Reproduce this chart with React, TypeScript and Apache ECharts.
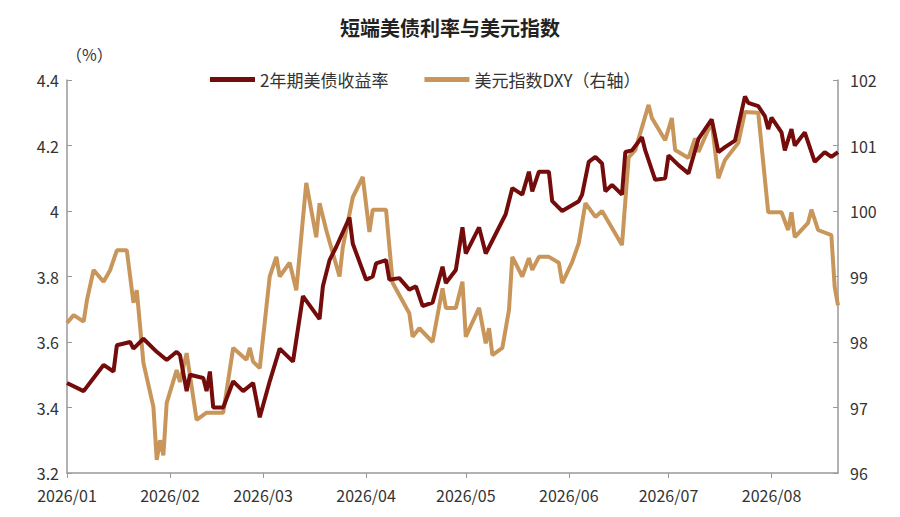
import { useEffect, useRef } from "react";
import * as echarts from "echarts";

const yieldDates = [
  "2026-01-01", "2026-01-06", "2026-01-09", "2026-01-12", "2026-01-15", "2026-01-16", "2026-01-20", "2026-01-21",
  "2026-01-24", "2026-01-28", "2026-01-31", "2026-02-03", "2026-02-04", "2026-02-06", "2026-02-07", "2026-02-11",
  "2026-02-12", "2026-02-13", "2026-02-14", "2026-02-17", "2026-02-20", "2026-02-23", "2026-02-26", "2026-02-28",
  "2026-03-03", "2026-03-06", "2026-03-10", "2026-03-13", "2026-03-18", "2026-03-19", "2026-03-21", "2026-03-23",
  "2026-03-27", "2026-03-28", "2026-04-01", "2026-04-03", "2026-04-04", "2026-04-07", "2026-04-08", "2026-04-11",
  "2026-04-14", "2026-04-16", "2026-04-18", "2026-04-21", "2026-04-24", "2026-04-25", "2026-04-28", "2026-04-30",
  "2026-05-01", "2026-05-05", "2026-05-07", "2026-05-09", "2026-05-13", "2026-05-15", "2026-05-18", "2026-05-20",
  "2026-05-21", "2026-05-23", "2026-05-26", "2026-05-27", "2026-05-30", "2026-06-04", "2026-06-05", "2026-06-07",
  "2026-06-09", "2026-06-11", "2026-06-12", "2026-06-14", "2026-06-17", "2026-06-18", "2026-06-20", "2026-06-23",
  "2026-06-24", "2026-06-27", "2026-06-30", "2026-07-01", "2026-07-04", "2026-07-07", "2026-07-10", "2026-07-14",
  "2026-07-16", "2026-07-18", "2026-07-21", "2026-07-24", "2026-07-25", "2026-07-28", "2026-07-30", "2026-07-31",
  "2026-08-01", "2026-08-04", "2026-08-05", "2026-08-07", "2026-08-08", "2026-08-11", "2026-08-14", "2026-08-17",
  "2026-08-19", "2026-08-21",
];
const yieldValues = [
  3.475, 3.45, 3.49, 3.53, 3.51, 3.59, 3.6, 3.58,
  3.61, 3.57, 3.545, 3.57, 3.56, 3.45, 3.5, 3.49,
  3.45, 3.51, 3.4, 3.4, 3.48, 3.45, 3.475, 3.37,
  3.48, 3.58, 3.54, 3.74, 3.67, 3.77, 3.85, 3.89,
  3.98, 3.9, 3.79, 3.8, 3.84, 3.85, 3.79, 3.795,
  3.76, 3.77, 3.71, 3.72, 3.83, 3.78, 3.82, 3.95,
  3.87, 3.95, 3.87, 3.91, 3.99, 4.07, 4.05, 4.12,
  4.06, 4.12, 4.12, 4.03, 4.0, 4.03, 4.05, 4.15,
  4.165, 4.145, 4.06, 4.08, 4.05, 4.18, 4.185, 4.225,
  4.185, 4.095, 4.1, 4.17, 4.14, 4.115, 4.22, 4.28,
  4.18, 4.195, 4.215, 4.35, 4.33, 4.32, 4.29, 4.25,
  4.285, 4.24, 4.185, 4.25, 4.2, 4.24, 4.15, 4.18,
  4.165, 4.18,
];

const dxyDates = [
  "2026-01-01", "2026-01-03", "2026-01-06", "2026-01-07", "2026-01-09", "2026-01-12", "2026-01-14", "2026-01-16",
  "2026-01-19", "2026-01-21", "2026-01-22", "2026-01-24", "2026-01-27", "2026-01-28", "2026-01-29", "2026-01-30",
  "2026-01-31", "2026-02-03", "2026-02-04", "2026-02-06", "2026-02-09", "2026-02-12", "2026-02-17", "2026-02-20",
  "2026-02-24", "2026-02-25", "2026-02-26", "2026-02-28", "2026-03-03", "2026-03-05", "2026-03-06", "2026-03-09",
  "2026-03-11", "2026-03-14", "2026-03-17", "2026-03-18", "2026-03-20", "2026-03-24", "2026-03-25", "2026-03-28",
  "2026-03-31", "2026-04-02", "2026-04-03", "2026-04-07", "2026-04-09", "2026-04-14", "2026-04-15", "2026-04-17",
  "2026-04-21", "2026-04-24", "2026-04-25", "2026-04-28", "2026-04-30", "2026-05-01", "2026-05-05", "2026-05-07",
  "2026-05-08", "2026-05-09", "2026-05-12", "2026-05-14", "2026-05-15", "2026-05-18", "2026-05-20", "2026-05-21",
  "2026-05-23", "2026-05-26", "2026-05-29", "2026-05-30", "2026-06-02", "2026-06-04", "2026-06-06", "2026-06-09",
  "2026-06-11", "2026-06-17", "2026-06-19", "2026-06-21", "2026-06-25", "2026-06-26", "2026-06-30", "2026-07-02",
  "2026-07-03", "2026-07-07", "2026-07-09", "2026-07-10", "2026-07-14", "2026-07-16", "2026-07-18", "2026-07-22",
  "2026-07-24", "2026-07-28", "2026-07-31", "2026-08-04", "2026-08-06", "2026-08-07", "2026-08-08", "2026-08-12",
  "2026-08-13", "2026-08-15", "2026-08-19", "2026-08-20", "2026-08-21",
];
const dxyValues = [
  98.29, 98.41, 98.31, 98.64, 99.1, 98.92, 99.1, 99.4,
  99.4, 98.6, 98.79, 97.68, 97.01, 96.2, 96.5, 96.27,
  97.07, 97.57, 97.39, 97.83, 96.81, 96.92, 96.92, 97.91,
  97.73, 97.91, 97.7, 97.6, 99.0, 99.3, 99.0, 99.21,
  98.79, 100.43, 99.6, 100.12, 99.71, 99.0, 99.45, 100.21,
  100.52, 99.68, 100.02, 100.02, 98.9, 98.44, 98.08, 98.21,
  98.0, 98.82, 98.52, 98.52, 98.92, 98.08, 98.52, 97.98,
  98.21, 97.8, 97.91, 98.49, 99.3, 99.0, 99.28, 99.1,
  99.3, 99.3, 99.21, 98.9, 99.22, 99.51, 100.12, 99.91,
  100.0, 99.48, 100.82, 100.93, 101.62, 101.42, 101.08, 101.42,
  100.93, 100.81, 101.11, 100.9, 101.36, 100.5, 100.78, 101.04,
  101.51, 101.5, 99.98, 99.98, 99.71, 99.98, 99.6, 99.82,
  100.02, 99.71, 99.63, 98.84, 98.56,
];

const DAY = 86400000;

export default function App() {
  const ref = useRef<HTMLDivElement>(null);

  useEffect(() => {
    document.body.style.margin = "0";
    if (!ref.current) return;
    const chart = echarts.init(ref.current, null, { renderer: "svg" });
    const axisColor = "#999";
    const labelStyle = { color: "#333", fontSize: 16, fontFamily: "Noto Sans CJK SC" };
    chart.setOption({
      animation: false,
      textStyle: { fontFamily: "Noto Sans CJK SC" },
      title: {
        text: "短端美债利率与美元指数",
        left: "center",
        top: 12,
        textStyle: { fontSize: 20, fontWeight: "bold", color: "#222", fontFamily: "Noto Sans CJK SC" },
      },
      legend: {
        top: 66,
        left: 205,
        itemWidth: 45,
        itemHeight: 5,
        itemGap: 36,
        icon: "rect",
        textStyle: { fontSize: 17, color: "#333", fontFamily: "Noto Sans CJK SC" },
        data: ["2年期美债收益率", "美元指数DXY（右轴）"],
      },
      graphic: [
        { type: "text", left: 66, top: 46, style: { text: "（%）", fontSize: 16, fill: "#333", fontFamily: "Noto Sans CJK SC" } },
      ],
      grid: { left: 67, right: 62, top: 80, bottom: 44 },
      xAxis: {
        type: "time",
        min: "2026-01-01",
        max: "2026-08-21",
        minInterval: 28 * DAY,
        maxInterval: 31 * DAY,
        axisLine: { lineStyle: { color: axisColor, width: 1.5 } },
        axisTick: { lineStyle: { color: axisColor } },
        splitLine: { show: false },
        axisLabel: {
          ...labelStyle,
          margin: 14,
          hideOverlap: false,
          formatter: (v: number) => {
            const d = new Date(v);
            return `${d.getFullYear()}/${String(d.getMonth() + 1).padStart(2, "0")}`;
          },
        },
      },
      yAxis: [
        {
          type: "value",
          min: 3.2,
          max: 4.4,
          interval: 0.2,
          axisLine: { show: true, lineStyle: { color: axisColor, width: 1.5 } },
          axisTick: { show: true, inside: true, lineStyle: { color: axisColor } },
          splitLine: { show: false },
          axisLabel: { ...labelStyle, formatter: (v: number) => String(Math.round(v * 10) / 10) },
        },
        {
          type: "value",
          min: 96,
          max: 102,
          interval: 1,
          axisLine: { show: true, lineStyle: { color: axisColor, width: 1.5 } },
          axisTick: { show: true, inside: true, lineStyle: { color: axisColor } },
          splitLine: { show: false },
          axisLabel: { ...labelStyle, margin: 12 },
        },
      ],
      series: [
        {
          name: "2年期美债收益率",
          type: "line",
          yAxisIndex: 0,
          showSymbol: false,
          z: 3,
          data: yieldDates.map((d, i) => [d, yieldValues[i]]),
          lineStyle: { width: 4, color: "#750C0C" },
          itemStyle: { color: "#750C0C" },
        },
        {
          name: "美元指数DXY（右轴）",
          type: "line",
          yAxisIndex: 1,
          showSymbol: false,
          z: 2,
          data: dxyDates.map((d, i) => [d, dxyValues[i]]),
          lineStyle: { width: 4, color: "#C8965A" },
          itemStyle: { color: "#C8965A" },
        },
      ],
    });
    return () => chart.dispose();
  }, []);

  return <div ref={ref} style={{ width: 900, height: 517 }} />;
}
